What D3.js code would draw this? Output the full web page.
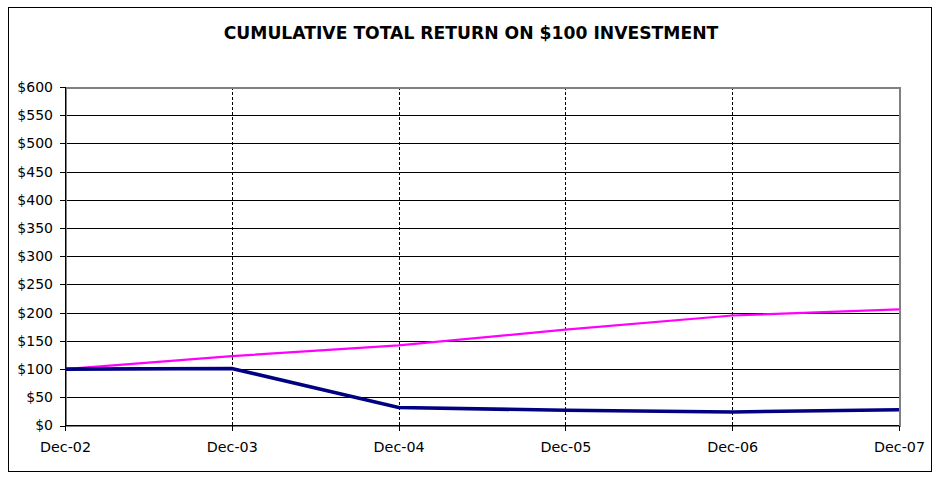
<!DOCTYPE html>
<html>
<head>
<meta charset="utf-8">
<script src="https://cdn.jsdelivr.net/npm/d3@7"></script>
<style>
  html, body { margin: 0; padding: 0; background: #fff; }
  svg { display: block; }
  text { font-family: "DejaVu Sans", Verdana, sans-serif; fill: #000; }
</style>
</head>
<body>
<svg id="chart" width="942" height="481"></svg>
<script>
const categories = ["Dec-02", "Dec-03", "Dec-04", "Dec-05", "Dec-06", "Dec-07"];
const companyValues = [100, 101, 32, 27, 24, 28];
const indexValues = [100, 123, 142, 170, 195, 206];
const yTicks = [0, 50, 100, 150, 200, 250, 300, 350, 400, 450, 500, 550, 600];
const title = "CUMULATIVE TOTAL RETURN ON $100 INVESTMENT";

const FONT = "'DejaVu Sans', Verdana, sans-serif";
const svg = d3.select("#chart");
const pLeft = 65, pRight = 899, pTop = 87, pBottom = 425.5;

// outer frame
svg.append("rect").attr("x", 8.5).attr("y", 7.5).attr("width", 923).attr("height", 464)
  .attr("fill", "#fff").attr("stroke", "#000").attr("stroke-width", 1);

svg.append("text").attr("x", 471).attr("y", 38.5).attr("text-anchor", "middle")
  .attr("font-size", "17.2px").attr("font-weight", "bold").text(title);

const x = d3.scalePoint().domain(categories).range([pLeft, pRight]);
const y = d3.scaleLinear().domain([0, 600]).range([pBottom, pTop]);

// horizontal gridlines
svg.append("g").selectAll("line").data(yTicks.filter(d => d > 0 && d < 600)).join("line")
  .attr("x1", pLeft).attr("x2", pRight)
  .attr("y1", d => Math.round(y(d)) + 0.5).attr("y2", d => Math.round(y(d)) + 0.5)
  .attr("stroke", "#000").attr("shape-rendering", "crispEdges");

// vertical dashed gridlines
svg.append("g").selectAll("line").data(categories.slice(1, -1)).join("line")
  .attr("x1", d => Math.round(x(d)) + 0.5).attr("x2", d => Math.round(x(d)) + 0.5)
  .attr("y1", pTop).attr("y2", pBottom)
  .attr("stroke", "#000").attr("stroke-dasharray", "3,2").attr("shape-rendering", "crispEdges");

// plot border (gray)
svg.append("rect").attr("x", pLeft + 0.5).attr("y", pTop + 0.5)
  .attr("width", pRight - pLeft).attr("height", pBottom - pTop)
  .attr("fill", "none").attr("stroke", "#808080").attr("stroke-width", 2)
  .attr("shape-rendering", "crispEdges");

// y axis
const yAxis = d3.axisLeft(y).tickValues(yTicks).tickSize(5).tickPadding(7)
  .tickFormat(d => "$" + d);
const gy = svg.append("g").attr("transform", `translate(${pLeft},0)`).call(yAxis);
gy.selectAll("text").attr("font-size", "14px").style("font-family", FONT);
gy.selectAll("line,path").attr("stroke", "#000").attr("shape-rendering", "crispEdges");
gy.select(".domain").attr("d", `M0,${pTop}V${pBottom}`);

// x axis
const xAxis = d3.axisBottom(x).tickSize(5).tickPadding(11);
const gx = svg.append("g").attr("transform", `translate(0,${pBottom})`).call(xAxis);
gx.selectAll("text").attr("font-size", "14.3px").style("font-family", FONT);
gx.selectAll("line,path").attr("stroke", "#000").attr("shape-rendering", "crispEdges");
gx.select(".domain").attr("d", `M${pLeft},0H${pRight}`);

const line = d3.line().x((d, i) => x(categories[i])).y(d => y(d));

svg.append("path").datum(indexValues).attr("d", line)
  .attr("fill", "none").attr("stroke", "#ff00ff").attr("stroke-width", 2.2);
svg.append("path").datum(companyValues).attr("d", line)
  .attr("fill", "none").attr("stroke", "#000080").attr("stroke-width", 3.6);
</script>
</body>
</html>
